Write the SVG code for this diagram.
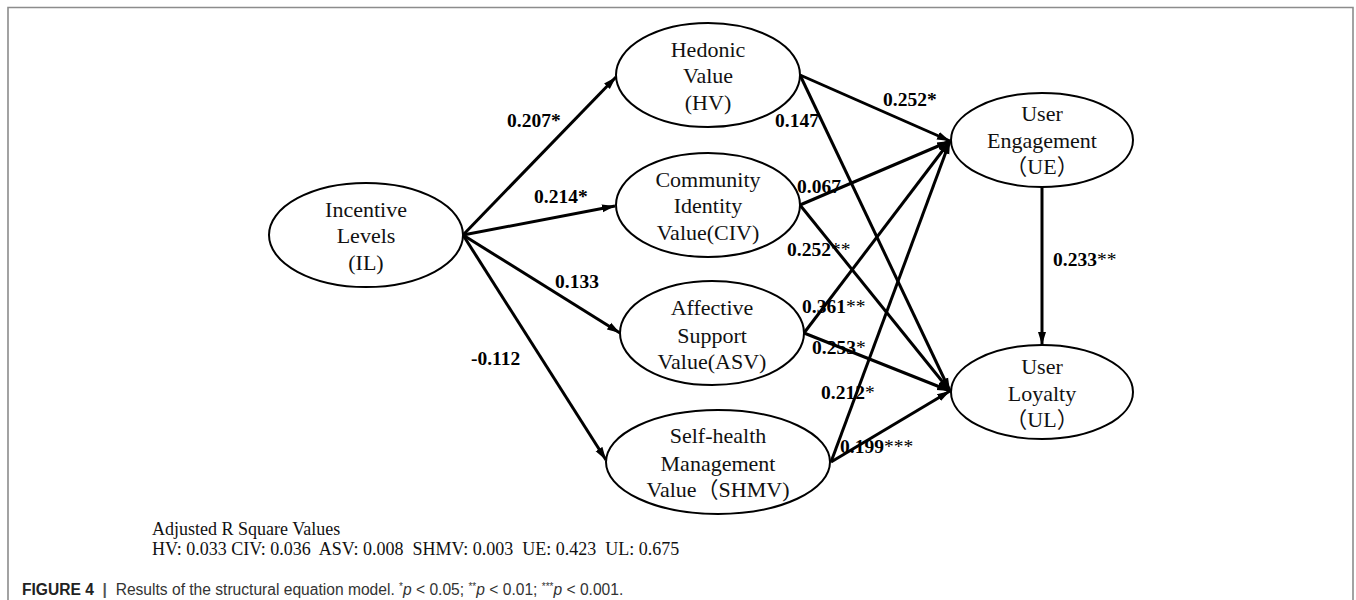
<svg xmlns="http://www.w3.org/2000/svg" width="1356" height="600" viewBox="0 0 1356 600">
<style>
.frame{stroke:#8c8c8c;stroke-width:1.6;fill:none}
.node ellipse{fill:#fff;stroke:#000;stroke-width:2}
.node text{font-family:"Liberation Serif","Noto Sans CJK SC",serif;font-size:22px;fill:#111;text-anchor:middle}
.edge{stroke:#000;stroke-width:3;fill:none;marker-end:url(#ah)}
.lbl{font-family:"Liberation Serif",serif;font-size:19.5px;font-weight:bold;fill:#000}
.lbl .n{font-weight:normal}
.note{font-family:"Liberation Serif",serif;font-size:18px;fill:#111;white-space:pre}
.cap{font-family:"Liberation Sans Narrow","Liberation Sans",sans-serif;font-size:15.6px;fill:#333;white-space:pre}
</style>
<defs>
<marker id="ah" markerUnits="userSpaceOnUse" markerWidth="14" markerHeight="10" refX="13" refY="5" orient="auto">
<path d="M0,1 L13,5 L0,9 z" fill="#000"/>
</marker>
</defs>
<rect width="1356" height="600" fill="#fff"/>
<path class="frame" d="M8,600 V7.5 H1353 V600"/>

<g id="connectors">
<line class="edge" x1="463" y1="235" x2="616" y2="77"/>
<line class="edge" x1="463" y1="235" x2="615" y2="206"/>
<line class="edge" x1="463" y1="235" x2="620" y2="333"/>
<line class="edge" x1="463" y1="235" x2="606" y2="460"/>
<line class="edge" x1="800" y1="75" x2="950" y2="141"/>
<line class="edge" x1="800" y1="75" x2="950" y2="391"/>
<line class="edge" x1="800" y1="205" x2="950" y2="141"/>
<line class="edge" x1="800" y1="205" x2="950" y2="391"/>
<line class="edge" x1="804" y1="333" x2="950" y2="141"/>
<line class="edge" x1="804" y1="333" x2="950" y2="391"/>
<line class="edge" x1="831" y1="462" x2="950" y2="141"/>
<line class="edge" x1="831" y1="462" x2="950" y2="391"/>
<line class="edge" x1="1042" y1="187" x2="1042" y2="345"/>
<text class="lbl" x="507" y="127">0.207*</text>
<text class="lbl" x="534" y="203">0.214*</text>
<text class="lbl" x="555" y="288">0.133</text>
<text class="lbl" x="471" y="365">-0.112</text>
<text class="lbl" x="883" y="106">0.252*</text>
<text class="lbl" x="775" y="127">0.147</text>
<text class="lbl" x="797" y="193">0.067</text>
<text class="lbl" x="787" y="256">0.252<tspan class="n">**</tspan></text>
<text class="lbl" x="802" y="313">0.361<tspan class="n">**</tspan></text>
<text class="lbl" x="812" y="354">0.253<tspan class="n">*</tspan></text>
<text class="lbl" x="821" y="399">0.212<tspan class="n">*</tspan></text>
<text class="lbl" x="840" y="453">0.199<tspan class="n">***</tspan></text>
<text class="lbl" x="1053" y="266">0.233<tspan class="n">**</tspan></text>
</g>

<g id="IL" class="node">
<ellipse cx="366" cy="235" rx="97" ry="52"/>
<text x="366" y="217">Incentive</text>
<text x="366" y="243">Levels</text>
<text x="366" y="270">(IL)</text>
</g>
<g id="HV" class="node">
<ellipse cx="708" cy="75" rx="92" ry="52"/>
<text x="708" y="57">Hedonic</text>
<text x="708" y="83">Value</text>
<text x="708" y="110">(HV)</text>
</g>
<g id="CIV" class="node">
<ellipse cx="708" cy="205" rx="92" ry="52"/>
<text x="708" y="187">Community</text>
<text x="708" y="213">Identity</text>
<text x="708" y="240">Value(CIV)</text>
</g>
<g id="ASV" class="node">
<ellipse cx="712" cy="333" rx="92" ry="52"/>
<text x="712" y="315">Affective</text>
<text x="712" y="343">Support</text>
<text x="712" y="369">Value(ASV)</text>
</g>
<g id="SHMV" class="node">
<ellipse cx="718" cy="462" rx="112" ry="52"/>
<text x="718" y="443">Self-health</text>
<text x="718" y="471">Management</text>
<text x="718" y="497">Value（SHMV)</text>
</g>
<g id="UE" class="node">
<ellipse cx="1042" cy="140" rx="91" ry="47"/>
<text x="1042" y="121">User</text>
<text x="1042" y="148">Engagement</text>
<text x="1042" y="174">（UE）</text>
</g>
<g id="UL" class="node">
<ellipse cx="1042" cy="392" rx="91" ry="47"/>
<text x="1042" y="374">User</text>
<text x="1042" y="401">Loyalty</text>
<text x="1042" y="427">（UL）</text>
</g>

<g id="notes">
<text class="note" x="152" y="535">Adjusted R Square Values</text>
<text class="note" x="152" y="555">HV: 0.033 CIV: 0.036  ASV: 0.008  SHMV: 0.003  UE: 0.423  UL: 0.675</text>
<text class="cap" x="22" y="595"><tspan font-weight="bold" fill="#222">FIGURE 4</tspan><tspan font-weight="bold" fill="#555">  |  </tspan>Results of the structural equation model. <tspan font-size="10" dy="-5">*</tspan><tspan font-style="italic" dy="5">p</tspan> &lt; 0.05; <tspan font-size="10" dy="-5">**</tspan><tspan font-style="italic" dy="5">p</tspan> &lt; 0.01; <tspan font-size="10" dy="-5">***</tspan><tspan font-style="italic" dy="5">p</tspan> &lt; 0.001.</text>
</g>
</svg>
